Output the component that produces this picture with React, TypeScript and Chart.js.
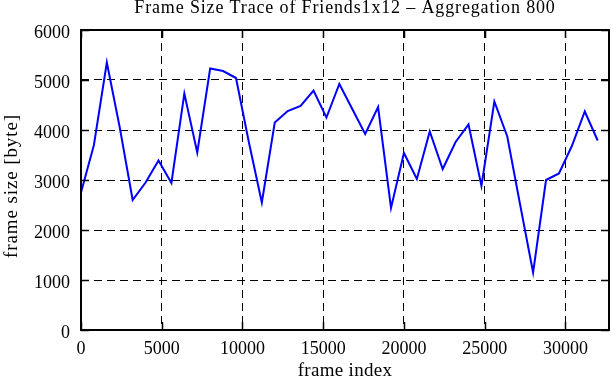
import React, { useEffect, useRef } from "react";
import { Chart, registerables } from "chart.js";

Chart.register(...registerables);

const TITLE = "Frame Size Trace of Friends1x12 \u2013 Aggregation 800";
const X_TITLE = "frame index";
const Y_TITLE = "frame size [byte]";

const frameIndex = [
  0, 800, 1600, 2400, 3200, 4000, 4800, 5600, 6400, 7200, 8000, 8800, 9600,
  10400, 11200, 12000, 12800, 13600, 14400, 15200, 16000, 16800, 17600, 18400,
  19200, 20000, 20800, 21600, 22400, 23200, 24000, 24800, 25600, 26400, 27200,
  28000, 28800, 29600, 30400, 31200, 32000,
];

const frameSize = [
  2750, 3700, 5350, 4050, 2600, 2950, 3390, 2940, 4730, 3550, 5230, 5180, 5040,
  3750, 2550, 4150, 4380, 4480, 4790, 4250, 4920, 4420, 3920, 4460, 2440, 3540,
  3020, 3970, 3220, 3760, 4110, 2880, 4570, 3870, 2500, 1150, 3000, 3130, 3680,
  4370, 3790,
];

const xTicks = [0, 5000, 10000, 15000, 20000, 25000, 30000];
const yTicks = [0, 1000, 2000, 3000, 4000, 5000, 6000];

const FONT = "'Liberation Serif', 'Times New Roman', serif";

const framePlugin = {
  id: "gnuplotFrame",
  beforeDraw(chart: any) {
    const ctx = chart.ctx;
    ctx.save();
    ctx.fillStyle = "#ffffff";
    ctx.fillRect(0, 0, chart.width, chart.height);
    ctx.restore();
  },
  afterDraw(chart: any) {
    const ctx = chart.ctx;
    const a = chart.chartArea;
    const xs = chart.scales.x;
    const ys = chart.scales.y;
    ctx.save();
    ctx.strokeStyle = "#000000";
    ctx.lineWidth = 1.5;
    ctx.setLineDash([]);
    const tl = 8;
    ctx.beginPath();
    xTicks.forEach((v) => {
      const px = Math.round(xs.getPixelForValue(v)) + 0.5;
      ctx.moveTo(px, a.bottom);
      ctx.lineTo(px, a.bottom - tl);
      ctx.moveTo(px, a.top);
      ctx.lineTo(px, a.top + tl);
    });
    yTicks.forEach((v) => {
      const py = Math.round(ys.getPixelForValue(v)) + 0.5;
      ctx.moveTo(a.left, py);
      ctx.lineTo(a.left + tl, py);
      ctx.moveTo(a.right, py);
      ctx.lineTo(a.right - tl, py);
    });
    ctx.stroke();
    ctx.lineWidth = 2;
    ctx.strokeRect(a.left, a.top, a.right - a.left, a.bottom - a.top);

    ctx.fillStyle = "#000000";
    const cx = (a.left + a.right) / 2;
    ctx.font = `18px ${FONT}`;
    (ctx as any).letterSpacing = "0.85px";
    ctx.textAlign = "center";
    ctx.textBaseline = "alphabetic";
    ctx.fillText(TITLE, cx, 13);

    ctx.font = `19px ${FONT}`;
    (ctx as any).letterSpacing = "0.3px";
    ctx.fillText(X_TITLE, cx, 376);

    ctx.save();
    ctx.translate(12, 186);
    ctx.rotate(-Math.PI / 2);
    ctx.font = `19px ${FONT}`;
    (ctx as any).letterSpacing = "0.9px";
    ctx.textBaseline = "middle";
    ctx.fillText(Y_TITLE, 0, 0);
    ctx.restore();

    ctx.restore();
  },
};

export default function App() {
  const ref = useRef<HTMLCanvasElement | null>(null);

  useEffect(() => {
    if (!ref.current) return;
    const chart = new Chart(ref.current, {
      type: "line",
      data: {
        datasets: [
          {
            data: frameIndex.map((f, i) => ({ x: f, y: frameSize[i] })),
            borderColor: "#0000ff",
            borderWidth: 2,
            pointRadius: 0,
            tension: 0,
            fill: false,
          },
        ],
      },
      options: {
        animation: false,
        responsive: false,
        devicePixelRatio: 1,
        layout: { padding: { top: 30, right: 2, left: 0, bottom: 0 } },
        plugins: {
          legend: { display: false },
          tooltip: { enabled: false },
          title: { display: false },
        },
        scales: {
          x: {
            type: "linear",
            min: 0,
            max: 32700,
            afterFit: (s: any) => {
              s.height = 50;
            },
            afterBuildTicks: (s: any) => {
              s.ticks = xTicks.map((v) => ({ value: v }));
            },
            ticks: {
              font: { family: FONT, size: 18 },
              color: "#000000",
              padding: 8,
              maxRotation: 0,
              autoSkip: false,
              callback: (v: any) => String(v),
            },
            grid: { color: "#000000", lineWidth: 1, drawTicks: false },
            border: { display: false, dash: [8, 5] },
            title: { display: false },
          },
          y: {
            type: "linear",
            min: 0,
            max: 6000,
            afterFit: (s: any) => {
              s.width = 81;
            },
            afterBuildTicks: (s: any) => {
              s.ticks = yTicks.map((v) => ({ value: v }));
            },
            ticks: {
              font: { family: FONT, size: 18 },
              color: "#000000",
              padding: 11,
              labelOffset: 3,
              callback: (v: any) => String(v),
            },
            grid: { color: "#000000", lineWidth: 1, drawTicks: false },
            border: { display: false, dash: [8, 5] },
            title: { display: false },
          },
        },
      },
      plugins: [framePlugin],
    });
    return () => chart.destroy();
  }, []);

  return (
    <div style={{ position: "fixed", left: 0, top: 0, width: 611, height: 380, background: "#fff" }}>
      <canvas ref={ref} width={611} height={380} style={{ display: "block", width: 611, height: 380 }} />
    </div>
  );
}
